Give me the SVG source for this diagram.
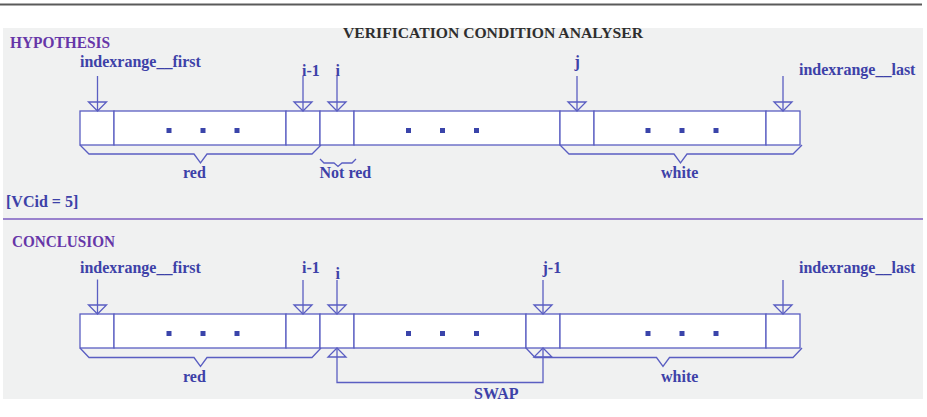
<svg xmlns="http://www.w3.org/2000/svg" width="927" height="417" viewBox="0 0 927 417">
  <style>
    .lbl { font-family: "Liberation Serif", "Times New Roman", serif; font-weight: bold; font-size: 16px; fill: #3d41a8; }
    .head { font-family: "Liberation Serif", "Times New Roman", serif; font-weight: bold; font-size: 16px; fill: #6636a8; }
    .title { font-family: "Liberation Serif", "Times New Roman", serif; font-weight: bold; font-size: 15px; fill: #2e2e2e; }
    .cell { fill: #ffffff; stroke: #5a5ec2; stroke-width: 1.3; }
    .ln { fill: none; stroke: #5a5ec2; stroke-width: 1.3; }
    .dot { fill: #3a44aa; }
  </style>
  <defs>
    <!-- open arrowhead, tip at origin, pointing down -->
    <path id="headDown" d="M-9,-9 L9,-9 L0,0 Z" fill="none" stroke="#5a5ec2" stroke-width="1.3"/>
    <path id="headUp" d="M-9,9 L9,9 L0,0 Z" fill="none" stroke="#5a5ec2" stroke-width="1.3"/>
    <!-- three dots marking elided cells -->
    <g id="ellipsis">
      <rect class="dot" x="-36.5" y="-2.5" width="5" height="5"/>
      <rect class="dot" x="-2.5" y="-2.5" width="5" height="5"/>
      <rect class="dot" x="31.5" y="-2.5" width="5" height="5"/>
    </g>
  </defs>

  <!-- frame -->
  <line x1="0" y1="4.5" x2="922" y2="4.5" stroke="#5a5a5a" stroke-width="2"/>
  <rect x="3" y="28" width="920" height="371" fill="#f0f1f1"/>
  <text class="title" x="343" y="38" textLength="300" lengthAdjust="spacingAndGlyphs">VERIFICATION CONDITION ANALYSER</text>
  <line x1="3" y1="219" x2="923" y2="219" stroke="#7d5cc0" stroke-width="1.5"/>

  <!-- hypothesis -->
  <g id="hypothesis">
    <text class="head" x="10" y="48" textLength="100" lengthAdjust="spacingAndGlyphs">HYPOTHESIS</text>
    <text class="lbl" x="6" y="207">[VCid = 5]</text>
    <g id="hyp-array">
      <rect class="cell" x="80" y="111" width="34" height="34"/>
      <rect class="cell" x="114" y="111" width="172" height="34"/>
      <rect class="cell" x="286" y="111" width="34" height="34"/>
      <rect class="cell" x="320" y="111" width="34" height="34"/>
      <rect class="cell" x="354" y="111" width="206" height="34"/>
      <rect class="cell" x="560" y="111" width="34" height="34"/>
      <rect class="cell" x="594" y="111" width="172" height="34"/>
      <rect class="cell" x="766" y="111" width="34" height="34"/>
      <use href="#ellipsis" x="203" y="130.5"/>
      <use href="#ellipsis" x="442.5" y="130.5"/>
      <use href="#ellipsis" x="682" y="130.5"/>
    </g>
    <g id="hyp-labels">
      <text class="lbl" x="80" y="67">indexrange__first</text>
      <text class="lbl" x="302" y="76">i-1</text>
      <text class="lbl" x="335.5" y="76">i</text>
      <text class="lbl" x="574.5" y="67">j</text>
      <text class="lbl" x="799" y="75">indexrange__last</text>
    </g>
    <g id="hyp-braces">
      <path class="ln" d="M80,145 L89,154 L194,154 L200.5,163 L207,154 L312,154 L321,145"/>
      <text class="lbl" x="183" y="178">red</text>
      <path class="ln" d="M320,159 L324,163 L334,163 L338,166.5 L342,163 L352,163 L356,159"/>
      <text class="lbl" x="319.5" y="178">Not red</text>
      <path class="ln" d="M560,145 L569,154 L674,154 L680.5,163 L687,154 L793,154 L802,145"/>
      <text class="lbl" x="661" y="178">white</text>
    </g>
  </g>

  <!-- conclusion -->
  <g id="conclusion">
    <text class="head" x="12" y="247" textLength="103" lengthAdjust="spacingAndGlyphs">CONCLUSION</text>
    <g id="con-array">
      <rect class="cell" x="80" y="314" width="34" height="34"/>
      <rect class="cell" x="114" y="314" width="172" height="34"/>
      <rect class="cell" x="286" y="314" width="34" height="34"/>
      <rect class="cell" x="320" y="314" width="34" height="34"/>
      <rect class="cell" x="354" y="314" width="172" height="34"/>
      <rect class="cell" x="526" y="314" width="34" height="34"/>
      <rect class="cell" x="560" y="314" width="206" height="34"/>
      <rect class="cell" x="766" y="314" width="34" height="34"/>
      <use href="#ellipsis" x="203" y="333.5"/>
      <use href="#ellipsis" x="442.5" y="333.5"/>
      <use href="#ellipsis" x="682" y="333.5"/>
    </g>
    <g id="con-labels">
      <text class="lbl" x="80" y="273">indexrange__first</text>
      <text class="lbl" x="302" y="273">i-1</text>
      <text class="lbl" x="335.5" y="279">i</text>
      <text class="lbl" x="542.5" y="273">j-1</text>
      <text class="lbl" x="799" y="273">indexrange__last</text>
    </g>
    <g id="con-braces">
      <path class="ln" d="M80,348 L89,357.5 L194,357.5 L200.5,366.5 L207,357.5 L312,357.5 L321,348"/>
      <text class="lbl" x="183" y="382">red</text>
      <path class="ln" d="M526,348 L535,357.5 L656.5,357.5 L663,366.5 L669.5,357.5 L793,357.5 L802,348"/>
      <text class="lbl" x="661" y="382">white</text>
    </g>
    <text class="lbl" x="474" y="399">SWAP</text>
  </g>

  <!-- connectors -->
  <g id="connectors">
    <line class="ln" x1="97.5" y1="76" x2="97.5" y2="111"/>
    <use href="#headDown" x="97.5" y="111"/>
    <line class="ln" x1="303" y1="76" x2="303" y2="111"/>
    <use href="#headDown" x="303" y="111"/>
    <line class="ln" x1="337" y1="76" x2="337" y2="111"/>
    <use href="#headDown" x="337" y="111"/>
    <line class="ln" x1="577" y1="76" x2="577" y2="111"/>
    <use href="#headDown" x="577" y="111"/>
    <line class="ln" x1="783" y1="76" x2="783" y2="111"/>
    <use href="#headDown" x="783" y="111"/>

    <line class="ln" x1="97.5" y1="279.5" x2="97.5" y2="314"/>
    <use href="#headDown" x="97.5" y="314"/>
    <line class="ln" x1="303" y1="280" x2="303" y2="314"/>
    <use href="#headDown" x="303" y="314"/>
    <line class="ln" x1="337" y1="280" x2="337" y2="314"/>
    <use href="#headDown" x="337" y="314"/>
    <line class="ln" x1="543" y1="280" x2="543" y2="314"/>
    <use href="#headDown" x="543" y="314"/>
    <line class="ln" x1="783" y1="280" x2="783" y2="314"/>
    <use href="#headDown" x="783" y="314"/>

    <!-- swap of cells i and j-1 -->
    <path class="ln" d="M337,348 L337,382.5 L543,382.5 L543,348"/>
    <use href="#headUp" x="337" y="348"/>
    <use href="#headUp" x="543" y="348"/>
  </g>
</svg>
